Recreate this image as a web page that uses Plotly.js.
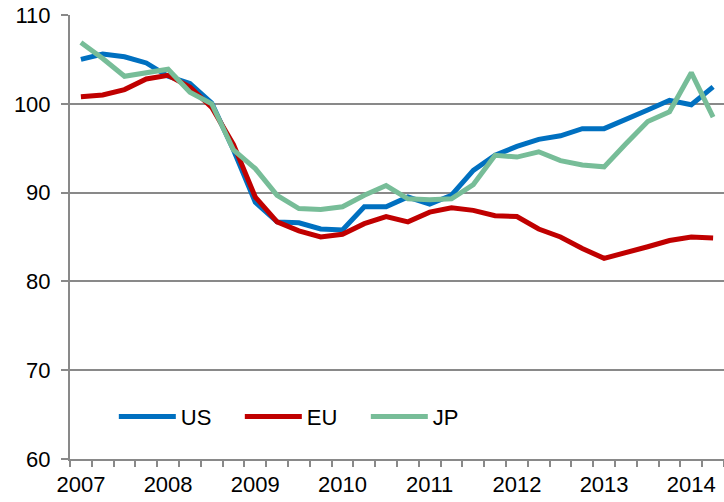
<!DOCTYPE html>
<html>
<head>
<meta charset="utf-8">
<script src="https://cdn.plot.ly/plotly-3.0.1.min.js"></script>
<style>html,body{margin:0;padding:0;background:#fff;}#chart{width:724px;height:502px;}</style>
</head>
<body>
<div id="chart"></div>
<script>
const quarters = [
  '2007Q1','2007Q2','2007Q3','2007Q4',
  '2008Q1','2008Q2','2008Q3','2008Q4',
  '2009Q1','2009Q2','2009Q3','2009Q4',
  '2010Q1','2010Q2','2010Q3','2010Q4',
  '2011Q1','2011Q2','2011Q3','2011Q4',
  '2012Q1','2012Q2','2012Q3','2012Q4',
  '2013Q1','2013Q2','2013Q3','2013Q4',
  '2014Q1','2014Q2'
];
const usValues = [105.0, 105.6, 105.3, 104.6, 103.1, 102.3, 100.1, 94.8,
                  88.9, 86.7, 86.6, 85.9, 85.8, 88.4, 88.4, 89.5,
                  88.7, 89.7, 92.5, 94.2, 95.2, 96.0, 96.4, 97.2,
                  97.2, 98.2, 99.3, 100.4, 99.9, 101.9];
const euValues = [100.8, 101.0, 101.6, 102.8, 103.2, 101.9, 99.6, 95.4,
                  89.5, 86.7, 85.7, 85.0, 85.3, 86.5, 87.3, 86.7,
                  87.8, 88.3, 88.0, 87.4, 87.3, 85.9, 85.0, 83.7,
                  82.6, 83.2, 83.9, 84.6, 85.0, 84.9];
const jpValues = [106.9, 105.1, 103.1, 103.5, 103.9, 101.3, 100.0, 94.8,
                  92.7, 89.7, 88.2, 88.1, 88.4, 89.7, 90.8, 89.3,
                  89.2, 89.3, 90.9, 94.2, 94.0, 94.6, 93.6, 93.1,
                  92.9, 95.5, 98.0, 99.1, 103.5, 98.5];
const seriesNames = ['US', 'EU', 'JP'];
const seriesColors = ['#0070C0', '#C00000', '#77BD98'];

const tickText = quarters.map(q => q.endsWith('Q1') ? q.slice(0, 4) : '');
const seriesValues = [usValues, euValues, jpValues];

const traces = seriesNames.map((name, i) => ({
  type: 'scatter',
  mode: 'lines',
  name: name,
  x: quarters,
  y: seriesValues[i],
  line: {color: seriesColors[i], width: 5}
}));

const axisGray = '#898989';
const layout = {
  width: 724,
  height: 502,
  margin: {l: 70, r: 0, t: 15, b: 43, pad: 0},
  paper_bgcolor: '#ffffff',
  plot_bgcolor: '#ffffff',
  font: {family: '"Liberation Sans", Arial, sans-serif', size: 22, color: '#000000'},
  showlegend: true,
  legend: {
    orientation: 'h',
    x: 0.067, xanchor: 'left',
    y: 0.095, yanchor: 'middle',
    bgcolor: 'rgba(0,0,0,0)',
    font: {size: 22, color: '#000000'},
    itemwidth: 57,
    entrywidth: 54,
    tracegroupgap: 0
  },
  xaxis: {
    type: 'category',
    range: [-0.5, 29.5],
    tickmode: 'array',
    tickvals: quarters,
    ticktext: tickText,
    tickson: 'boundaries',
    ticks: 'outside',
    ticklen: 6,
    tickwidth: 2,
    tickcolor: axisGray,
    showline: true,
    linecolor: axisGray,
    linewidth: 2,
    showgrid: false,
    zeroline: false,
    tickangle: 0,
    ticklabelstandoff: 5,
    tickfont: {size: 22}
  },
  yaxis: {
    range: [60, 110],
    tickmode: 'linear',
    tick0: 60,
    dtick: 10,
    ticks: 'outside',
    ticklen: 7,
    tickwidth: 2,
    tickcolor: axisGray,
    showline: true,
    linecolor: axisGray,
    linewidth: 2,
    showgrid: true,
    gridcolor: axisGray,
    gridwidth: 2,
    zeroline: false,
    ticklabelstandoff: 6,
    tickfont: {size: 22}
  }
};

Plotly.newPlot('chart', traces, layout, {displayModeBar: false, staticPlot: true});
</script>
</body>
</html>
